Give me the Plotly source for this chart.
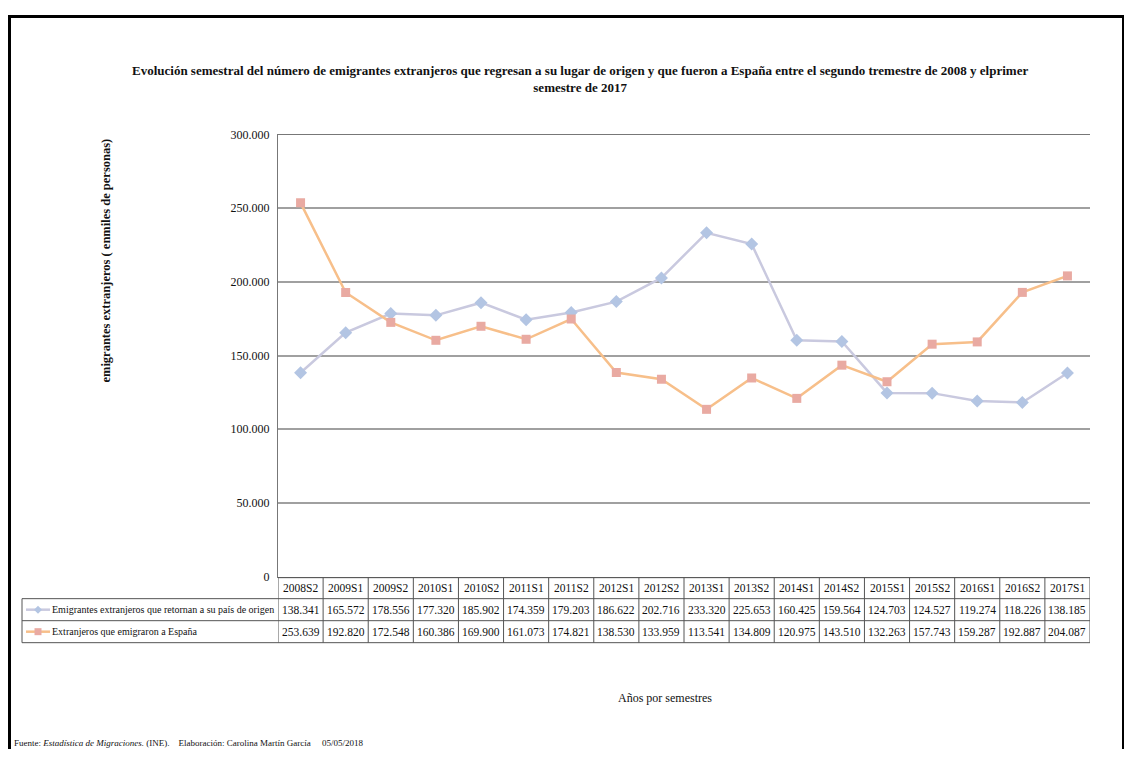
import plotly.graph_objects as go

# figure size / mapping calibrated so that the rendered page matches the 1132x762 reference
FW, FH = 1116, 748
OFFX, OFFY, SY = 8, 14.5, 0.981

semesters = ["2008S2", "2009S1", "2009S2", "2010S1", "2010S2", "2011S1", "2011S2", "2012S1",
             "2012S2", "2013S1", "2013S2", "2014S1", "2014S2", "2015S1", "2015S2", "2016S1",
             "2016S2", "2017S1"]
retornan = [138341, 165572, 178556, 177320, 185902, 174359, 179203, 186622, 202716, 233320,
            225653, 160425, 159564, 124703, 124527, 119274, 118226, 138185]
emigraron = [253639, 192820, 172548, 160386, 169900, 161073, 174821, 138530, 133959, 113541,
             134809, 120975, 143510, 132263, 157743, 159287, 192887, 204087]
series_names = ["Emigrantes extranjeros que retornan a su país de origen",
                "Extranjeros que emigraron a España"]
y_ticks = [0, 50000, 100000, 150000, 200000, 250000, 300000]

FONT = "Liberation Serif"
C1_LINE, C1_MARK = "#c9c9df", "#b3c5e3"
C2_LINE, C2_MARK = "#f7bf8a", "#e9aaa2"


def px(x):
    return (x - OFFX) / FW


def py(y):
    yf = max((y - OFFY) / SY, 0.0)
    return 1 - yf / FH


def fmt(v):
    return f"{v:,}".replace(",", ".")


PLOT_L, PLOT_R, PLOT_T, PLOT_B = 278, 1090, 134, 576

fig = go.Figure()
fig.add_trace(go.Scatter(x=semesters, y=retornan, mode="lines+markers", name=series_names[0],
                         line=dict(color=C1_LINE, width=2.5),
                         marker=dict(symbol="diamond", size=10, color=C1_MARK)))
fig.add_trace(go.Scatter(x=semesters, y=emigraron, mode="lines+markers", name=series_names[1],
                         line=dict(color=C2_LINE, width=2.5),
                         marker=dict(symbol="square", size=9, color=C2_MARK)))

shapes = []
annotations = []

# outer frame
top_y = 1 - 1.5 / FH
shapes.append(dict(type="line", xref="paper", yref="paper", x0=px(8), x1=px(1124),
                   y0=top_y, y1=top_y, line=dict(color="black", width=3)))
shapes.append(dict(type="line", xref="paper", yref="paper", x0=px(9.5), x1=px(9.5),
                   y0=1, y1=0, line=dict(color="black", width=3)))
shapes.append(dict(type="line", xref="paper", yref="paper", x0=px(1123), x1=px(1123),
                   y0=1, y1=0, line=dict(color="black", width=2)))

# data table
ROW_Y = [577, 598, 620, 642]
TAB_L = 22
LC = "#555555"
shapes.append(dict(type="line", xref="paper", yref="paper", x0=px(PLOT_L), x1=px(PLOT_R),
                   y0=py(ROW_Y[0]), y1=py(ROW_Y[0]), line=dict(color=LC, width=1)))
for ry in ROW_Y[1:]:
    shapes.append(dict(type="line", xref="paper", yref="paper", x0=px(TAB_L), x1=px(PLOT_R),
                       y0=py(ry), y1=py(ry), line=dict(color=LC, width=1)))
shapes.append(dict(type="line", xref="paper", yref="paper", x0=px(TAB_L), x1=px(TAB_L),
                   y0=py(ROW_Y[1]), y1=py(ROW_Y[3]), line=dict(color=LC, width=1)))
for i in range(len(semesters) + 1):
    shapes.append(dict(type="line", xref="x", yref="paper", x0=i - 0.5, x1=i - 0.5,
                       y0=py(ROW_Y[0]), y1=py(ROW_Y[3]), line=dict(color=LC, width=1)))

tfont = dict(family=FONT, size=11.5, color="#111111")
for i, s in enumerate(semesters):
    for r, txt in enumerate([s, fmt(retornan[i]), fmt(emigraron[i])]):
        annotations.append(dict(x=s, y=py((ROW_Y[r] + ROW_Y[r + 1]) / 2), xref="x", yref="paper",
                                yanchor="middle", text=txt, showarrow=False, font=tfont))

# legend keys in the table
for k, (lc, mc, sym) in enumerate([(C1_LINE, C1_MARK, "diamond"), (C2_LINE, C2_MARK, "square")]):
    yc = (ROW_Y[k + 1] + ROW_Y[k + 2]) / 2
    shapes.append(dict(type="line", xref="paper", yref="paper", x0=px(26), x1=px(50),
                       y0=py(yc), y1=py(yc), line=dict(color=lc, width=2.5)))
    if sym == "diamond":
        path = (f"M {px(38)},{py(yc - 4)} L {px(42)},{py(yc)} L {px(38)},{py(yc + 4)} "
                f"L {px(34)},{py(yc)} Z")
    else:
        path = (f"M {px(34.5)},{py(yc - 3.5)} L {px(41.5)},{py(yc - 3.5)} L {px(41.5)},{py(yc + 3.5)} "
                f"L {px(34.5)},{py(yc + 3.5)} Z")
    shapes.append(dict(type="path", xref="paper", yref="paper", path=path,
                       fillcolor=mc, line=dict(color=mc, width=0)))
    annotations.append(dict(x=px(50), y=py(yc), xref="paper", yref="paper", xanchor="left",
                            yanchor="middle", text=series_names[k], showarrow=False,
                            font=dict(family=FONT, size=10, color="#111111")))

# titles
annotations.append(dict(x=px(580), y=py(78), xref="paper", yref="paper", yanchor="middle",
                        text="<b>Evolución semestral del número de emigrantes extranjeros que regresan a su lugar de origen y que fueron a España entre el segundo tremestre de 2008 y elprimer<br>semestre de 2017</b>",
                        showarrow=False, font=dict(family=FONT, size=13, color="#111111")))
annotations.append(dict(x=px(106), y=py(260), xref="paper", yref="paper", textangle=-90,
                        xanchor="center", yanchor="middle",
                        text="<b>emigrantes extranjeros ( enmiles de personas)</b>",
                        showarrow=False, font=dict(family=FONT, size=12.5, color="#111111")))
annotations.append(dict(x=px(665), y=py(697), xref="paper", yref="paper", yanchor="middle",
                        text="Años por semestres", showarrow=False,
                        font=dict(family=FONT, size=12, color="#111111")))
annotations.append(dict(x=px(12), y=py(742), xref="paper", yref="paper", xanchor="left", yanchor="middle",
                        text="Fuente: <i>Estadística de Migraciones.</i> (INE).&nbsp;&nbsp;&nbsp;&nbsp;Elaboración: Carolina Martín García&nbsp;&nbsp;&nbsp;&nbsp;&nbsp;05/05/2018",
                        showarrow=False, font=dict(family=FONT, size=9, color="#111111")))

fig.update_layout(
    width=FW, height=FH, autosize=False,
    margin=dict(l=0, r=0, t=0, b=0),
    paper_bgcolor="white", plot_bgcolor="white",
    showlegend=False,
    separators=",.",
    shapes=shapes, annotations=annotations,
    xaxis=dict(domain=[px(PLOT_L), px(PLOT_R)], type="category", range=[-0.5, len(semesters) - 0.5],
               showticklabels=False, showgrid=False, zeroline=False, ticks="",
               showline=True, linecolor="#777777", linewidth=1, mirror=True),
    yaxis=dict(domain=[py(PLOT_B), py(PLOT_T)], range=[0, 300000], tickvals=y_ticks,
               tickformat=",d", showgrid=True, gridcolor="#a0a0a0", gridwidth=1.5,
               zeroline=False, showline=True, linecolor="#777777", linewidth=1,
               tickfont=dict(family=FONT, size=12, color="#111111"), ticks="", ticklabelstandoff=5),
)

fig.write_html("out.html")
